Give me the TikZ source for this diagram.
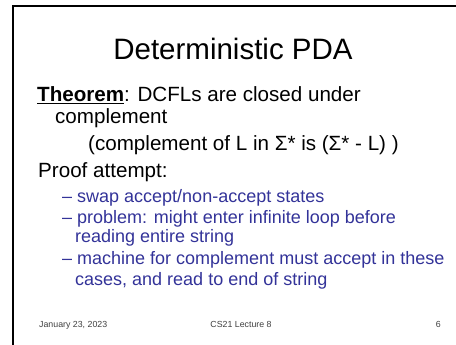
\documentclass[tikz,border=0pt]{standalone}
\usepackage{fontspec}
\setmainfont{Liberation Sans}
\definecolor{subblue}{HTML}{333399}
\tikzset{
  title/.style={anchor=base, inner sep=0pt, font=\fontsize{29.5}{32}\selectfont},
  body/.style={anchor=base west, inner sep=0pt, font=\fontsize{20.6}{24}\selectfont},
  sub/.style={anchor=base west, inner sep=0pt, text=subblue, font=\fontsize{18}{21}\selectfont},
  foot/.style={anchor=base, inner sep=0pt, text=black!75, font=\fontsize{8.8}{10}\selectfont},
  frame/.style={line width=2.4pt, line cap=rect}
}
\begin{document}
\begin{tikzpicture}[x=1pt,y=-1pt]
  \useasboundingbox (0,0) rectangle (456,345);
  \fill[white] (0,0) rectangle (456,345);
  % slide frame: top and left edges
  \coordinate (tl) at (13,6);
  \coordinate (tr) at (457,6);
  \coordinate (bl) at (13,346);
  \draw[frame] (tr) -- (tl) -- (bl);

  % title
  \node[title] (ttl) at (233,60) {Deterministic PDA};

  % theorem
  \node[body] (thm) at (37,102) {\underline{\textbf{Theorem}}: DCFLs are closed under};
  \node[body] (thm2) at (55,124) {complement};
  \node[body] (cmp) at (88,151) {(complement of L in Σ* is (Σ* - L) )};

  % proof
  \node[body] (prf) at (38,178) {Proof attempt:};
  \node[sub] (s1) at (62,203) {– swap accept/non-accept states};
  \node[sub] (s2) at (62,223) {– problem: might enter infinite loop before};
  \node[sub] (s2b) at (75,243) {reading entire string};
  \node[sub] (s3) at (62,265) {– machine for complement must accept in these};
  \node[sub] (s3b) at (75,285) {cases, and read to end of string};

  % footer
  \node[foot, anchor=base west] (date) at (39,327) {January 23, 2023};
  \node[foot] (lect) at (241,327) {CS21 Lecture 8};
  \node[foot, anchor=base east] (pg) at (441,327) {6};
\end{tikzpicture}
\end{document}
